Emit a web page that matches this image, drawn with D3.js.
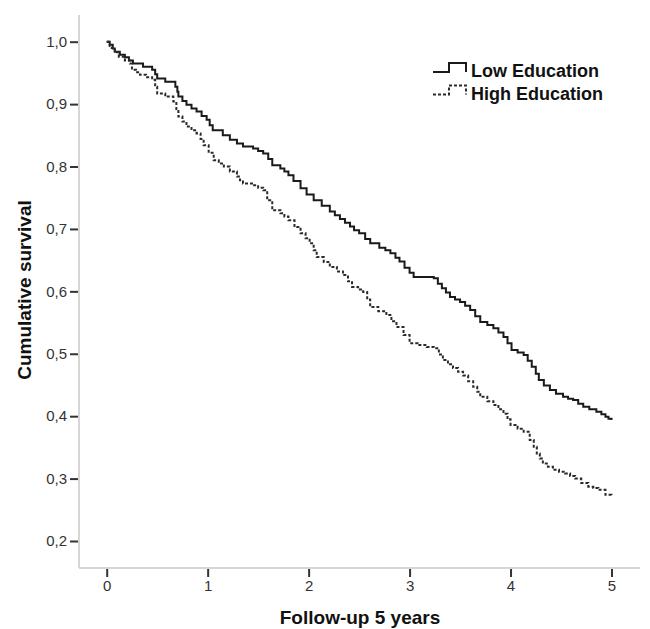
<!DOCTYPE html>
<html>
<head>
<meta charset="utf-8">
<script src="https://cdn.jsdelivr.net/npm/d3@7"></script>
<style>
  body { margin: 0; background: #fff; }
  svg { display: block; font-family: "Liberation Sans", Arial, sans-serif; }
  .tick text { fill: #333; font-size: 15px; }
  .tick line { stroke: #333; stroke-width: 2; }
</style>
</head>
<body>
<svg width="650" height="629"></svg>
<script>
// Kaplan-Meier estimates (years, cumulative survival)
var lowTime = [0, 0.03, 0.06, 0.08, 0.13, 0.18, 0.22, 0.26, 0.36, 0.45, 0.48, 0.50, 0.58, 0.68, 0.70, 0.71, 0.75, 0.79, 0.84, 0.89, 0.94, 0.99, 1.02, 1.05, 1.15, 1.22, 1.29, 1.35, 1.45, 1.50, 1.55, 1.60, 1.64, 1.72, 1.76, 1.80, 1.85, 1.92, 1.98, 2.05, 2.13, 2.21, 2.26, 2.31, 2.36, 2.41, 2.45, 2.50, 2.56, 2.61, 2.70, 2.76, 2.81, 2.86, 2.90, 2.95, 3.00, 3.04, 3.24, 3.28, 3.32, 3.36, 3.40, 3.45, 3.50, 3.55, 3.60, 3.65, 3.70, 3.77, 3.83, 3.88, 3.93, 3.97, 4.01, 4.07, 4.13, 4.17, 4.21, 4.25, 4.28, 4.33, 4.39, 4.45, 4.52, 4.57, 4.62, 4.67, 4.72, 4.78, 4.85, 4.90, 4.94, 4.97, 5.0];
var lowSurv = [1.0, 0.995, 0.989, 0.984, 0.979, 0.975, 0.970, 0.965, 0.960, 0.955, 0.948, 0.941, 0.936, 0.928, 0.920, 0.912, 0.905, 0.899, 0.893, 0.888, 0.881, 0.875, 0.866, 0.858, 0.850, 0.843, 0.837, 0.832, 0.829, 0.825, 0.821, 0.812, 0.802, 0.797, 0.792, 0.786, 0.777, 0.765, 0.755, 0.746, 0.737, 0.728, 0.722, 0.716, 0.710, 0.704, 0.698, 0.693, 0.684, 0.677, 0.670, 0.666, 0.661, 0.654, 0.648, 0.638, 0.630, 0.623, 0.621, 0.612, 0.605, 0.598, 0.591, 0.587, 0.583, 0.577, 0.570, 0.560, 0.551, 0.546, 0.541, 0.534, 0.527, 0.517, 0.506, 0.502, 0.498, 0.489, 0.479, 0.468, 0.458, 0.449, 0.442, 0.436, 0.431, 0.428, 0.426, 0.420, 0.415, 0.411, 0.407, 0.403, 0.399, 0.396, 0.394];

var highTime = [0, 0.03, 0.05, 0.08, 0.12, 0.18, 0.23, 0.25, 0.29, 0.33, 0.39, 0.45, 0.48, 0.50, 0.58, 0.66, 0.69, 0.71, 0.75, 0.79, 0.84, 0.89, 0.93, 0.96, 1.01, 1.06, 1.11, 1.16, 1.22, 1.29, 1.32, 1.35, 1.45, 1.50, 1.55, 1.59, 1.64, 1.72, 1.76, 1.80, 1.86, 1.92, 1.97, 2.01, 2.05, 2.08, 2.15, 2.21, 2.28, 2.34, 2.39, 2.43, 2.49, 2.54, 2.58, 2.61, 2.69, 2.77, 2.82, 2.87, 2.94, 3.00, 3.08, 3.17, 3.24, 3.29, 3.33, 3.38, 3.43, 3.48, 3.53, 3.58, 3.63, 3.67, 3.70, 3.77, 3.83, 3.88, 3.93, 3.97, 4.00, 4.07, 4.13, 4.19, 4.23, 4.26, 4.29, 4.32, 4.37, 4.42, 4.48, 4.54, 4.59, 4.64, 4.70, 4.77, 4.82, 4.87, 4.94, 5.0];
var highSurv = [1.0, 0.993, 0.990, 0.983, 0.976, 0.970, 0.965, 0.955, 0.951, 0.947, 0.943, 0.939, 0.928, 0.917, 0.912, 0.904, 0.892, 0.880, 0.872, 0.864, 0.858, 0.853, 0.844, 0.834, 0.822, 0.810, 0.805, 0.800, 0.792, 0.784, 0.778, 0.773, 0.770, 0.766, 0.762, 0.746, 0.730, 0.725, 0.720, 0.714, 0.703, 0.693, 0.685, 0.677, 0.666, 0.655, 0.647, 0.639, 0.632, 0.626, 0.616, 0.607, 0.603, 0.599, 0.587, 0.575, 0.568, 0.562, 0.552, 0.543, 0.530, 0.517, 0.514, 0.511, 0.509, 0.499, 0.490, 0.483, 0.477, 0.471, 0.465, 0.456, 0.447, 0.439, 0.431, 0.424, 0.418, 0.411, 0.404, 0.395, 0.386, 0.380, 0.375, 0.362, 0.351, 0.340, 0.332, 0.324, 0.319, 0.314, 0.311, 0.308, 0.304, 0.300, 0.293, 0.287, 0.285, 0.282, 0.274, 0.271];

var xTicks = [0, 1, 2, 3, 4, 5];
var yTicks = [0.2, 0.3, 0.4, 0.5, 0.6, 0.7, 0.8, 0.9, 1.0];
var seriesNames = ["Low Education", "High Education"];

var svg = d3.select("svg");
var frame = {left: 79, top: 15, right: 640, bottom: 568};

var x = d3.scaleLinear().domain([0, 5]).range([106.7, 611.5]);
var y = d3.scaleLinear().domain([0.2, 1.0]).range([541, 41.7]);

// plot frame (left and bottom only)
svg.append("line")
    .attr("x1", frame.left).attr("x2", frame.left)
    .attr("y1", frame.top).attr("y2", frame.bottom)
    .attr("stroke", "#c8c8c8").attr("stroke-width", 1.5);
svg.append("line")
    .attr("x1", frame.left).attr("x2", frame.right)
    .attr("y1", frame.bottom).attr("y2", frame.bottom)
    .attr("stroke", "#c8c8c8").attr("stroke-width", 1.5);

var comma = function(d) { return d3.format(".1f")(d).replace(".", ","); };

svg.append("g")
    .attr("transform", "translate(" + (frame.left - 1) + ",0)")
    .call(d3.axisLeft(y).tickValues(yTicks).tickFormat(comma).tickSize(8).tickPadding(3))
    .call(function(g) { g.select(".domain").remove(); });

svg.append("g")
    .attr("transform", "translate(0," + (frame.bottom + 1) + ")")
    .call(d3.axisBottom(x).tickValues(xTicks).tickFormat(d3.format("d")).tickSize(8).tickPadding(3))
    .call(function(g) { g.select(".domain").remove(); });

// axis titles
svg.append("text")
    .attr("transform", "translate(31,290) rotate(-90)")
    .attr("text-anchor", "middle")
    .style("font-size", "19px").style("font-weight", "bold").style("fill", "#111")
    .text("Cumulative survival");

svg.append("text")
    .attr("x", 360).attr("y", 624)
    .attr("text-anchor", "middle")
    .style("font-size", "19px").style("font-weight", "bold").style("fill", "#111")
    .text("Follow-up 5 years");

var line = d3.line()
    .x(function(d) { return x(d[0]); })
    .y(function(d) { return y(d[1]); })
    .curve(d3.curveStepAfter);

svg.append("path")
    .datum(d3.zip(lowTime, lowSurv))
    .attr("fill", "none")
    .attr("stroke", "#1a1a1a")
    .attr("stroke-width", 2)
    .attr("d", line);

svg.append("path")
    .datum(d3.zip(highTime, highSurv))
    .attr("fill", "none")
    .attr("stroke", "#2a2a2a")
    .attr("stroke-width", 2)
    .attr("stroke-dasharray", "3,2")
    .attr("d", line);

// legend
var legend = svg.append("g").attr("transform", "translate(433,72)");
var styles = [null, "3,2"];
seriesNames.forEach(function(name, i) {
  var g = legend.append("g").attr("transform", "translate(0," + (i * 22.5) + ")");
  g.append("path")
      .attr("d", "M0,0H16V-9H33V0")
      .attr("fill", "none")
      .attr("stroke", i ? "#2a2a2a" : "#1a1a1a")
      .attr("stroke-width", 2)
      .attr("stroke-dasharray", styles[i]);
  g.append("text")
      .attr("x", 38).attr("y", 5)
      .style("font-size", "18px").style("font-weight", "bold").style("fill", "#111")
      .text(name);
});
</script>
</body>
</html>
